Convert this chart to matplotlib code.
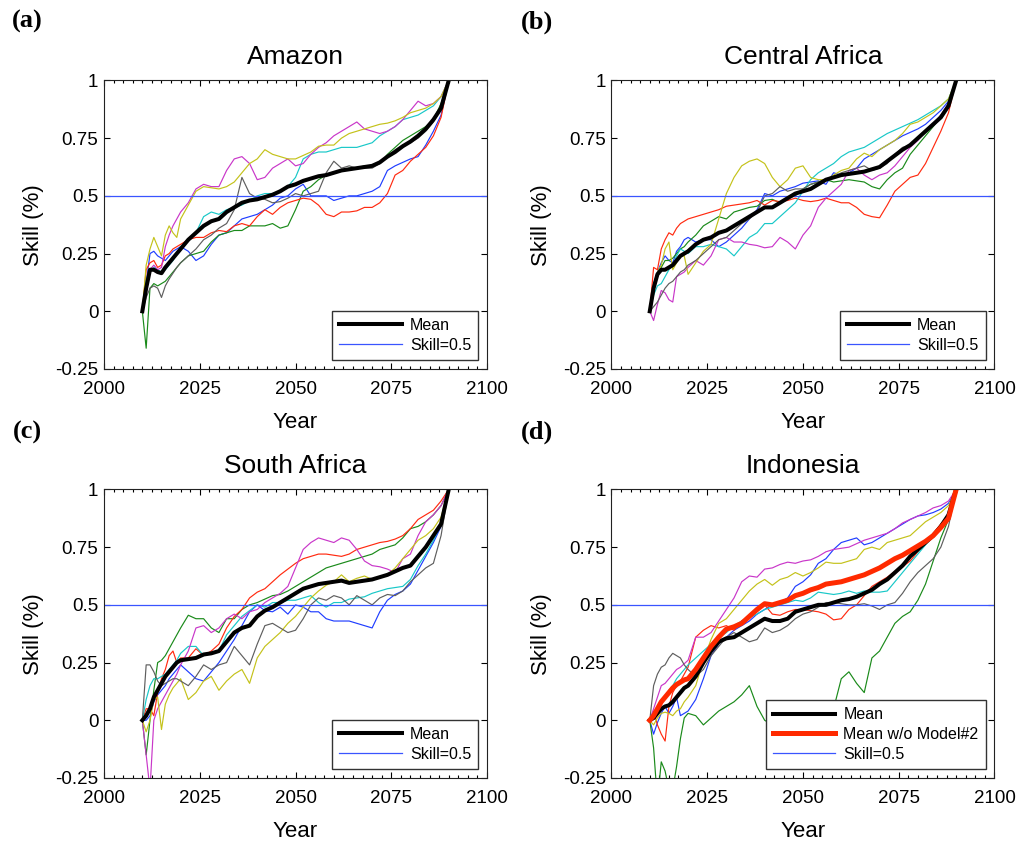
import matplotlib.pyplot as plt
from matplotlib.ticker import MultipleLocator

plt.rcParams['font.family'] = ['Liberation Sans', 'DejaVu Sans']

# 2010-2020 yearly, then every 2 years to 2090
years = list(range(2010, 2021)) + list(range(2022, 2091, 2))

# ---------------- (a) Amazon ----------------
amazon_mean = [0, 0.10, 0.18, 0.18, 0.17, 0.165, 0.19, 0.21, 0.23, 0.25, 0.27,
               0.31, 0.34, 0.37, 0.39, 0.40, 0.43, 0.45, 0.47, 0.48, 0.485,
               0.495, 0.505, 0.52, 0.54, 0.55, 0.565, 0.575, 0.585, 0.59, 0.60,
               0.61, 0.615, 0.62, 0.625, 0.63, 0.645, 0.67, 0.69, 0.715, 0.735,
               0.76, 0.79, 0.83, 0.88, 1.0]
amazon_blue = [0, 0.12, 0.25, 0.26, 0.24, 0.23, 0.22, 0.24, 0.26, 0.27, 0.28,
               0.26, 0.22, 0.24, 0.29, 0.33, 0.34, 0.37, 0.40, 0.41, 0.42,
               0.44, 0.46, 0.49, 0.50, 0.53, 0.55, 0.50, 0.50, 0.50, 0.48,
               0.49, 0.50, 0.50, 0.51, 0.52, 0.54, 0.61, 0.63, 0.645, 0.66,
               0.67, 0.72, 0.78, 0.85, 1.0]
amazon_green = [0, -0.16, 0.10, 0.12, 0.11, 0.12, 0.13, 0.15, 0.17, 0.19, 0.21,
                0.24, 0.25, 0.26, 0.30, 0.33, 0.34, 0.35, 0.35, 0.37, 0.37,
                0.37, 0.38, 0.36, 0.37, 0.44, 0.52, 0.54, 0.57, 0.59, 0.60,
                0.61, 0.62, 0.62, 0.63, 0.63, 0.64, 0.68, 0.71, 0.74, 0.76,
                0.78, 0.80, 0.83, 0.90, 1.0]
amazon_red = [0, 0.18, 0.21, 0.22, 0.19, 0.20, 0.24, 0.25, 0.27, 0.28, 0.29,
              0.31, 0.32, 0.32, 0.34, 0.35, 0.345, 0.37, 0.38, 0.37, 0.41,
              0.44, 0.42, 0.45, 0.47, 0.48, 0.49, 0.485, 0.46, 0.42, 0.41,
              0.43, 0.43, 0.435, 0.45, 0.45, 0.47, 0.51, 0.59, 0.61, 0.65,
              0.68, 0.71, 0.76, 0.84, 1.0]
amazon_cyan = [0, 0.14, 0.17, 0.19, 0.18, 0.17, 0.18, 0.20, 0.22, 0.25, 0.28,
               0.31, 0.34, 0.41, 0.43, 0.42, 0.44, 0.45, 0.46, 0.48, 0.50,
               0.51, 0.51, 0.52, 0.54, 0.58, 0.66, 0.68, 0.69, 0.69, 0.70,
               0.71, 0.71, 0.71, 0.72, 0.73, 0.76, 0.78, 0.80, 0.83, 0.84,
               0.85, 0.87, 0.89, 0.93, 1.0]
amazon_magenta = [0, 0.10, 0.18, 0.20, 0.18, 0.19, 0.28, 0.33, 0.37, 0.40, 0.43,
                  0.47, 0.53, 0.55, 0.54, 0.54, 0.61, 0.66, 0.67, 0.64, 0.57,
                  0.58, 0.62, 0.64, 0.66, 0.63, 0.64, 0.68, 0.71, 0.73, 0.76,
                  0.78, 0.80, 0.82, 0.79, 0.78, 0.77, 0.78, 0.80, 0.83, 0.87,
                  0.91, 0.89, 0.90, 0.93, 1.0]
amazon_yellow = [0, 0.20, 0.27, 0.32, 0.28, 0.24, 0.33, 0.37, 0.34, 0.32, 0.40,
                 0.46, 0.52, 0.54, 0.535, 0.53, 0.54, 0.56, 0.60, 0.64, 0.66,
                 0.70, 0.68, 0.67, 0.66, 0.66, 0.675, 0.69, 0.715, 0.72, 0.72,
                 0.75, 0.77, 0.78, 0.79, 0.80, 0.81, 0.815, 0.825, 0.84, 0.86,
                 0.87, 0.88, 0.90, 0.93, 1.0]
amazon_gray = [0, 0.06, 0.10, 0.11, 0.10, 0.06, 0.11, 0.14, 0.165, 0.19, 0.21,
               0.24, 0.27, 0.31, 0.33, 0.36, 0.38, 0.44, 0.58, 0.51, 0.49,
               0.485, 0.47, 0.475, 0.49, 0.51, 0.50, 0.51, 0.52, 0.60, 0.65,
               0.62, 0.63, 0.62, 0.62, 0.62, 0.64, 0.67, 0.70, 0.72, 0.73,
               0.75, 0.78, 0.82, 0.88, 1.0]

# ---------------- (b) Central Africa ----------------
cafrica_mean = [0, 0.10, 0.16, 0.18, 0.18, 0.19, 0.20, 0.22, 0.24, 0.25, 0.26,
                0.29, 0.31, 0.32, 0.34, 0.35, 0.37, 0.39, 0.41, 0.43, 0.45,
                0.45, 0.47, 0.49, 0.51, 0.52, 0.53, 0.55, 0.57, 0.58, 0.59,
                0.595, 0.60, 0.605, 0.615, 0.625, 0.65, 0.675, 0.70, 0.72, 0.75,
                0.78, 0.81, 0.84, 0.89, 1.0]
cafrica_blue = [0, 0.12, 0.17, 0.21, 0.24, 0.22, 0.21, 0.26, 0.28, 0.31, 0.32,
                0.30, 0.31, 0.31, 0.28, 0.30, 0.33, 0.36, 0.40, 0.44, 0.51,
                0.50, 0.52, 0.53, 0.54, 0.555, 0.56, 0.565, 0.55, 0.60, 0.59,
                0.60, 0.62, 0.66, 0.68, 0.70, 0.72, 0.74, 0.76, 0.775, 0.79,
                0.81, 0.84, 0.87, 0.91, 1.0]
cafrica_green = [0, 0.12, 0.15, 0.19, 0.22, 0.22, 0.23, 0.25, 0.27, 0.28, 0.30,
                 0.33, 0.37, 0.39, 0.41, 0.40, 0.43, 0.44, 0.45, 0.455, 0.48,
                 0.485, 0.47, 0.49, 0.50, 0.53, 0.55, 0.56, 0.57, 0.56, 0.565,
                 0.57, 0.565, 0.56, 0.54, 0.53, 0.57, 0.60, 0.62, 0.68, 0.72,
                 0.76, 0.80, 0.84, 0.90, 1.0]
cafrica_red = [0, 0.19, 0.18, 0.27, 0.31, 0.34, 0.33, 0.36, 0.38, 0.39, 0.40,
               0.41, 0.42, 0.43, 0.44, 0.455, 0.46, 0.465, 0.47, 0.48, 0.46,
               0.48, 0.475, 0.48, 0.49, 0.48, 0.475, 0.48, 0.49, 0.48, 0.47,
               0.47, 0.45, 0.42, 0.41, 0.405, 0.46, 0.52, 0.55, 0.58, 0.59,
               0.64, 0.71, 0.78, 0.86, 1.0]
cafrica_cyan = [0, 0.07, 0.11, 0.12, 0.15, 0.18, 0.20, 0.24, 0.27, 0.26, 0.25,
                0.28, 0.28, 0.29, 0.28, 0.27, 0.24, 0.28, 0.32, 0.34, 0.38,
                0.38, 0.41, 0.44, 0.47, 0.52, 0.57, 0.60, 0.62, 0.64, 0.67,
                0.69, 0.70, 0.71, 0.73, 0.75, 0.77, 0.785, 0.80, 0.815, 0.83,
                0.85, 0.87, 0.89, 0.92, 1.0]
cafrica_magenta = [0, -0.04, 0.03, 0.09, 0.08, 0.05, 0.04, 0.15, 0.16, 0.17, 0.19,
                   0.22, 0.20, 0.24, 0.31, 0.32, 0.30, 0.30, 0.29, 0.285, 0.275,
                   0.28, 0.32, 0.30, 0.27, 0.33, 0.37, 0.45, 0.49, 0.52, 0.55,
                   0.61, 0.62, 0.59, 0.57, 0.59, 0.60, 0.63, 0.67, 0.71, 0.74,
                   0.78, 0.81, 0.85, 0.90, 1.0]
cafrica_yellow = [0, 0.08, 0.17, 0.20, 0.27, 0.30, 0.18, 0.21, 0.24, 0.24, 0.16,
                  0.21, 0.26, 0.29, 0.40, 0.51, 0.58, 0.63, 0.65, 0.66, 0.64,
                  0.58, 0.54, 0.57, 0.62, 0.63, 0.58, 0.57, 0.57, 0.59, 0.61,
                  0.62, 0.66, 0.685, 0.67, 0.70, 0.72, 0.74, 0.77, 0.81, 0.82,
                  0.84, 0.86, 0.89, 0.92, 1.0]
cafrica_gray = [0, 0.02, 0.04, 0.07, 0.10, 0.12, 0.13, 0.15, 0.17, 0.18, 0.20,
                0.22, 0.25, 0.28, 0.31, 0.32, 0.35, 0.38, 0.40, 0.43, 0.50,
                0.51, 0.54, 0.52, 0.53, 0.53, 0.55, 0.56, 0.57, 0.58, 0.60,
                0.61, 0.62, 0.63, 0.61, 0.62, 0.64, 0.68, 0.71, 0.72, 0.75,
                0.78, 0.81, 0.85, 0.89, 1.0]

# ---------------- (c) South Africa ----------------
safrica_mean = [0, 0.02, 0.05, 0.10, 0.13, 0.16, 0.19, 0.21, 0.23, 0.25, 0.26,
                0.265, 0.27, 0.285, 0.29, 0.30, 0.34, 0.38, 0.40, 0.41, 0.45,
                0.475, 0.49, 0.51, 0.53, 0.55, 0.57, 0.58, 0.59, 0.595, 0.60,
                0.605, 0.595, 0.60, 0.605, 0.61, 0.62, 0.63, 0.645, 0.66, 0.67,
                0.71, 0.75, 0.80, 0.85, 1.0]
safrica_blue = [0, 0.0, 0.02, 0.08, 0.11, 0.13, 0.15, 0.18, 0.20, 0.22, 0.24,
                0.21, 0.18, 0.17, 0.21, 0.25, 0.30, 0.35, 0.41, 0.47, 0.50,
                0.475, 0.47, 0.49, 0.46, 0.50, 0.49, 0.47, 0.47, 0.44, 0.43,
                0.43, 0.43, 0.42, 0.41, 0.40, 0.47, 0.52, 0.545, 0.56, 0.59,
                0.65, 0.71, 0.77, 0.84, 1.0]
safrica_green = [0, -0.15, 0.0, 0.13, 0.25, 0.26, 0.28, 0.31, 0.34, 0.37, 0.40,
                 0.455, 0.44, 0.44, 0.40, 0.38, 0.44, 0.44, 0.48, 0.50, 0.51,
                 0.525, 0.54, 0.545, 0.56, 0.58, 0.60, 0.62, 0.64, 0.66, 0.67,
                 0.68, 0.69, 0.70, 0.71, 0.72, 0.74, 0.75, 0.76, 0.79, 0.83,
                 0.84, 0.86, 0.89, 0.93, 1.0]
safrica_red = [0, 0.05, 0.05, 0.02, 0.12, 0.18, 0.22, 0.28, 0.30, 0.25, 0.27,
               0.27, 0.31, 0.28, 0.30, 0.33, 0.40, 0.45, 0.48, 0.53, 0.555,
               0.57, 0.60, 0.63, 0.655, 0.68, 0.70, 0.71, 0.72, 0.72, 0.715,
               0.71, 0.72, 0.74, 0.75, 0.76, 0.77, 0.775, 0.785, 0.80, 0.83,
               0.87, 0.89, 0.91, 0.95, 1.0]
safrica_cyan = [0, 0.09, 0.15, 0.18, 0.18, 0.19, 0.20, 0.22, 0.24, 0.26, 0.29,
                0.32, 0.32, 0.28, 0.29, 0.30, 0.37, 0.41, 0.45, 0.475, 0.50,
                0.49, 0.51, 0.51, 0.52, 0.52, 0.53, 0.54, 0.51, 0.49, 0.51,
                0.51, 0.525, 0.53, 0.535, 0.55, 0.56, 0.57, 0.575, 0.58, 0.61,
                0.67, 0.72, 0.78, 0.85, 1.0]
safrica_magenta = [0, -0.15, -0.30, 0.0, 0.05, 0.08, 0.11, 0.14, 0.17, 0.20, 0.24,
                   0.30, 0.40, 0.41, 0.38, 0.40, 0.44, 0.46, 0.44, 0.47, 0.48,
                   0.51, 0.53, 0.55, 0.58, 0.66, 0.74, 0.77, 0.79, 0.78, 0.77,
                   0.79, 0.78, 0.74, 0.69, 0.67, 0.665, 0.655, 0.64, 0.70, 0.72,
                   0.80, 0.86, 0.89, 0.93, 1.0]
safrica_yellow = [0, -0.05, 0.0, 0.09, 0.10, -0.04, 0.07, 0.11, 0.14, 0.16, 0.18,
                  0.09, 0.12, 0.17, 0.19, 0.13, 0.17, 0.20, 0.22, 0.16, 0.27,
                  0.32, 0.35, 0.38, 0.42, 0.45, 0.49, 0.53, 0.56, 0.585, 0.60,
                  0.63, 0.60, 0.615, 0.625, 0.61, 0.62, 0.63, 0.66, 0.70, 0.74,
                  0.78, 0.80, 0.83, 0.88, 1.0]
safrica_gray = [0, 0.24, 0.24, 0.21, 0.17, 0.15, 0.16, 0.17, 0.18, 0.18, 0.17,
                0.15, 0.19, 0.24, 0.22, 0.24, 0.25, 0.32, 0.28, 0.24, 0.33,
                0.41, 0.42, 0.40, 0.38, 0.39, 0.44, 0.50, 0.53, 0.52, 0.54,
                0.53, 0.50, 0.54, 0.52, 0.50, 0.53, 0.545, 0.54, 0.56, 0.60,
                0.63, 0.66, 0.68, 0.80, 1.0]

# ---------------- (d) Indonesia ----------------
indo_mean = [0, 0.01, 0.03, 0.05, 0.06, 0.065, 0.08, 0.10, 0.12, 0.14, 0.15,
             0.19, 0.25, 0.30, 0.34, 0.355, 0.36, 0.38, 0.40, 0.42, 0.44,
             0.43, 0.43, 0.44, 0.47, 0.48, 0.49, 0.50, 0.50, 0.51, 0.52,
             0.525, 0.535, 0.55, 0.565, 0.59, 0.61, 0.64, 0.67, 0.71, 0.74,
             0.77, 0.80, 0.84, 0.89, 1.0]
indo_mean_wo2 = [0, 0.02, 0.05, 0.08, 0.10, 0.12, 0.14, 0.155, 0.165, 0.175, 0.18,
                 0.22, 0.27, 0.32, 0.36, 0.395, 0.405, 0.42, 0.45, 0.48, 0.505,
                 0.50, 0.51, 0.52, 0.54, 0.55, 0.565, 0.575, 0.59, 0.595, 0.60,
                 0.61, 0.62, 0.63, 0.645, 0.66, 0.68, 0.70, 0.715, 0.735, 0.755,
                 0.775, 0.80, 0.835, 0.875, 1.0]
indo_blue = [0, -0.06, -0.01, 0.03, 0.06, 0.03, 0.06, 0.10, 0.02, 0.03, 0.04,
             0.09, 0.18, 0.28, 0.33, 0.36, 0.39, 0.41, 0.43, 0.46, 0.48,
             0.50, 0.51, 0.53, 0.58, 0.60, 0.63, 0.68, 0.70, 0.74, 0.77,
             0.78, 0.79, 0.76, 0.77, 0.79, 0.81, 0.83, 0.85, 0.87, 0.885,
             0.89, 0.90, 0.915, 0.94, 1.0]
indo_green = [0, -0.12, -0.35, -0.18, -0.22, -0.30, -0.30, -0.20, -0.08, 0.01, 0.03,
              0.02, -0.02, 0.01, 0.04, 0.06, 0.08, 0.11, 0.15, 0.06, 0.0,
              -0.02, -0.05, -0.05, -0.03, -0.02, -0.01, 0.0, 0.02, 0.05, 0.18,
              0.21, 0.16, 0.12, 0.27, 0.30, 0.36, 0.42, 0.45, 0.47, 0.52,
              0.59, 0.69, 0.79, 0.87, 1.0]
indo_red = [0, 0.04, -0.02, -0.06, -0.09, 0.06, 0.12, 0.15, 0.17, 0.20, 0.23,
            0.36, 0.39, 0.41, 0.40, 0.41, 0.39, 0.43, 0.45, 0.47, 0.50,
            0.46, 0.455, 0.47, 0.48, 0.48, 0.475, 0.47, 0.46, 0.435, 0.44,
            0.48, 0.50, 0.54, 0.58, 0.60, 0.62, 0.645, 0.665, 0.69, 0.73,
            0.77, 0.81, 0.85, 0.89, 1.0]
indo_cyan = [0, 0.03, 0.06, 0.08, 0.10, 0.13, 0.15, 0.18, 0.20, 0.22, 0.24,
             0.27, 0.30, 0.33, 0.36, 0.38, 0.41, 0.43, 0.445, 0.46, 0.48,
             0.49, 0.50, 0.51, 0.52, 0.515, 0.53, 0.555, 0.55, 0.545, 0.55,
             0.56, 0.55, 0.56, 0.555, 0.555, 0.56, 0.60, 0.64, 0.68, 0.72,
             0.76, 0.80, 0.84, 0.89, 1.0]
indo_magenta = [0, 0.05, 0.10, 0.15, 0.16, 0.18, 0.20, 0.22, 0.23, 0.245, 0.26,
                0.36, 0.36, 0.38, 0.43, 0.48, 0.53, 0.60, 0.625, 0.62, 0.655,
                0.66, 0.675, 0.685, 0.68, 0.69, 0.695, 0.71, 0.73, 0.74, 0.745,
                0.75, 0.765, 0.78, 0.79, 0.80, 0.81, 0.83, 0.855, 0.87, 0.885,
                0.90, 0.92, 0.93, 0.95, 1.0]
indo_yellow = [0, -0.02, 0.01, 0.03, 0.035, 0.03, 0.02, 0.04, 0.05, 0.08, 0.10,
               0.15, 0.26, 0.35, 0.42, 0.44, 0.48, 0.52, 0.56, 0.59, 0.61,
               0.585, 0.61, 0.62, 0.64, 0.625, 0.64, 0.66, 0.685, 0.68, 0.68,
               0.69, 0.70, 0.74, 0.75, 0.74, 0.77, 0.78, 0.79, 0.80, 0.83,
               0.86, 0.88, 0.90, 0.93, 1.0]
indo_gray = [0, 0.15, 0.20, 0.23, 0.24, 0.27, 0.29, 0.28, 0.27, 0.24, 0.22,
             0.19, 0.22, 0.28, 0.32, 0.36, 0.38, 0.36, 0.34, 0.35, 0.40,
             0.38, 0.39, 0.41, 0.44, 0.46, 0.47, 0.49, 0.51, 0.51, 0.505,
             0.50, 0.50, 0.505, 0.495, 0.48, 0.50, 0.51, 0.55, 0.60, 0.64,
             0.67, 0.70, 0.75, 0.84, 1.0]

model_colors = ['#1f3dff', '#1a8a1a', '#ff2a10', '#18c8c8', '#c936c9', '#c4c21a', '#5e5e5e']
skill_color = '#3a55ff'

fig = plt.figure(figsize=(10.21, 8.44), dpi=100)


def draw_panel(rect, title, models, mean, mean_wo=None):
    ax = fig.add_axes(rect)
    for vals, col in zip(models, model_colors):
        ax.plot(years, vals, color=col, lw=0.85)
    skill = ax.axhline(0.5, color=skill_color, lw=0.9)
    handles = []
    labels = []
    m, = ax.plot(years, mean, color='black', lw=2.9)
    handles.append(m)
    labels.append('Mean')
    if mean_wo is not None:
        r, = ax.plot(years, mean_wo, color='#ff2a00', lw=3.6)
        handles.append(r)
        labels.append('Mean w/o Model#2')
    handles.append(skill)
    labels.append('Skill=0.5')

    ax.set_xlim(2000, 2100)
    ax.set_ylim(-0.25, 1)
    ax.set_xticks([2000, 2025, 2050, 2075, 2100])
    ax.set_yticks([-0.25, 0, 0.25, 0.5, 0.75, 1])
    ax.set_yticklabels(['-0.25', '0', '0.25', '0.5', '0.75', '1'])
    ax.xaxis.set_minor_locator(MultipleLocator(2.5))
    ax.tick_params(which='both', direction='in', top=True, right=True, width=0.8)
    ax.tick_params(which='major', length=4.5)
    ax.tick_params(which='minor', length=2.5, left=False, right=False)
    ax.tick_params(axis='x', labelsize=13.5, pad=9)
    ax.tick_params(axis='y', labelsize=13.5, pad=4)
    for sp in ax.spines.values():
        sp.set_linewidth(0.8)
        sp.set_color('#222222')
    ax.set_xlabel('Year', fontsize=16, labelpad=10)
    ax.set_ylabel('Skill (%)', fontsize=16, labelpad=8)
    ax.set_title(title, fontsize=19, pad=12)
    ax.legend(handles, labels, loc='lower right', bbox_to_anchor=(0.977, 0.031),
              borderaxespad=0, fontsize=11.5, handlelength=3.9, handletextpad=0.5,
              borderpad=0.45, labelspacing=0.3, fancybox=False, framealpha=1,
              edgecolor='#333333')
    return ax


w, h = 0.3751, 0.3419
draw_panel([0.1019, 0.5628, w, h], 'Amazon',
           [amazon_blue, amazon_green, amazon_red, amazon_cyan, amazon_magenta,
            amazon_yellow, amazon_gray], amazon_mean)
draw_panel([0.5989, 0.5628, w, h], 'Central Africa',
           [cafrica_blue, cafrica_green, cafrica_red, cafrica_cyan, cafrica_magenta,
            cafrica_yellow, cafrica_gray], cafrica_mean)
draw_panel([0.1019, 0.0782, w, h], 'South Africa',
           [safrica_blue, safrica_green, safrica_red, safrica_cyan, safrica_magenta,
            safrica_yellow, safrica_gray], safrica_mean)
draw_panel([0.5989, 0.0782, w, h], 'Indonesia',
           [indo_blue, indo_green, indo_red, indo_cyan, indo_magenta,
            indo_yellow, indo_gray], indo_mean, mean_wo=indo_mean_wo2)

for txt, x, y in [('(a)', 0.027, 0.974), ('(b)', 0.526, 0.974),
                  ('(c)', 0.027, 0.488), ('(d)', 0.526, 0.488)]:
    fig.text(x, y, txt, fontsize=19, fontweight='bold', ha='center', va='center',
             family=['Liberation Serif', 'DejaVu Serif'])

fig.savefig('out.png', dpi=100)
